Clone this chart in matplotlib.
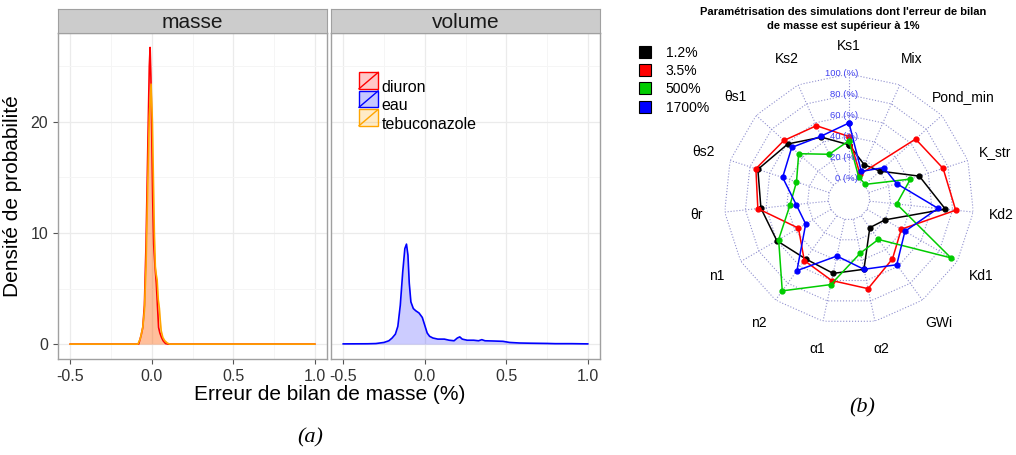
import numpy as np
import matplotlib
matplotlib.use("Agg")
import matplotlib.pyplot as plt
from matplotlib.patches import Patch, Rectangle
from matplotlib.lines import Line2D
from matplotlib.legend_handler import HandlerBase

plt.rcParams['font.family'] = ['Liberation Sans', 'DejaVu Sans']

# ---- (a) densities, points ----
diuron_x = [-0.5, -0.08, -0.065, -0.055, -0.045, -0.035, -0.025, -0.015, -0.01, -0.005, 0.0,
            0.006, 0.012, 0.02, 0.028, 0.035, 0.042, 0.05, 0.06, 0.07, 0.085, 0.1, 1.0]
diuron_y = [0, 0, 0.8, 1.5, 3.5, 9, 17, 25, 26.7, 24, 19,
            13, 9, 7, 5.5, 3.5, 1.5, 1.0, 0.6, 0.3, 0.05, 0, 0]

tebu_x = [-0.5, -0.085, -0.07, -0.055, -0.045, -0.035, -0.025, -0.015, -0.004, 0.004, 0.01,
          0.016, 0.022, 0.027, 0.033, 0.04, 0.047, 0.052, 0.058, 0.068, 0.08, 0.095, 0.11, 1.0]
tebu_y = [0, 0, 0.5, 1.5, 3.0, 7, 14, 20.5, 23.4, 20, 15,
          10, 7, 6.3, 5.8, 4, 3.2, 2.2, 1.2, 0.6, 0.3, 0.1, 0, 0]

eau_x = [-0.5, -0.35, -0.3, -0.25, -0.22, -0.2, -0.18, -0.165, -0.15, -0.135, -0.122, -0.112,
         -0.103, -0.095, -0.085, -0.07, -0.055, -0.035, -0.015, 0.0, 0.015, 0.03, 0.05, 0.08,
         0.12, 0.15, 0.18, 0.2, 0.215, 0.23, 0.26, 0.3, 0.33, 0.35, 0.37, 0.42, 0.48, 0.52,
         0.58, 0.65, 0.75, 0.8, 0.9, 1.0]
eau_y = [0.02, 0.03, 0.05, 0.15, 0.3, 0.55, 0.9, 1.6, 3.5, 6.5, 8.6, 9.0,
         8.0, 5.5, 3.8, 3.2, 3.0, 2.8, 2.4, 1.7, 1.0, 0.7, 0.55, 0.45,
         0.45, 0.35, 0.3, 0.55, 0.65, 0.45, 0.35, 0.35, 0.3, 0.4, 0.3, 0.28, 0.25, 0.15,
         0.1, 0.08, 0.06, 0.04, 0.04, 0.02]

facets = ["masse", "volume"]
x_ticks = [-0.5, 0.0, 0.5, 1.0]
x_tick_labels = ["-0.5", "0.0", "0.5", "1.0"]
y_ticks = [0, 10, 20]

# ---- (b) radar, % per parameter (clockwise from top) ----
params = ["Ks1", "Mix", "Pond_min", "K_str", "Kd2", "Kd1", "GWi", "α2", "α1",
          "n2", "n1", "θr", "θs2", "θs1", "Ks2"]
s_1_2 = [32, 16, 20, 51, 73, 20, 14, 49, 53, 51, 60, 65, 72, 59, 45]
s_3_5 = [40, 6, 66, 75, 83, 38, 51, 68, 60, 53, 36, 68, 74, 64, 57]
s_500 = [36, 3, 1, 42, 26, 93, 28, 33, 64, 89, 58, 37, 33, 45, 27]
s_1700 = [53, 9, 25, 28, 66, 42, 58, 49, 36, 65, 28, 31, 47, 54, 46]
series_labels = ["1.2%", "3.5%", "500%", "1700%"]
levels = [0, 20, 40, 60, 80, 100]

W, H = 1016, 455
fig = plt.figure(figsize=(W / 100, H / 100), dpi=100)


def fx(px):
    return px / W


def fy(px):
    return 1 - px / H


class DensityKey(HandlerBase):
    def create_artists(self, legend, orig, x0, y0, w, h, fontsize, trans):
        rect = Rectangle((x0, y0), w, h, facecolor=orig.get_facecolor(),
                         edgecolor=orig.get_edgecolor(), lw=1.0, transform=trans)
        diag = Line2D([x0, x0 + w], [y0, y0 + h], color=orig.get_edgecolor(),
                      lw=1.0, transform=trans)
        return [rect, diag]


panel_left = [58, 331]
panel_w = 269
axes = []
for i, name in enumerate(facets):
    ax = fig.add_axes([fx(panel_left[i]), fy(359), fx(panel_w), (359 - 33) / H])
    ax.set_xlim(-0.575, 1.075)
    ax.set_ylim(-1.34, 28.0)
    ax.set_xticks(x_ticks)
    ax.set_xticklabels(x_tick_labels)
    ax.set_xticks([-0.25, 0.25, 0.75], minor=True)
    ax.set_yticks(y_ticks)
    ax.set_yticks([5, 15, 25], minor=True)
    ax.grid(which='major', color='#ebebeb', lw=0.9)
    ax.grid(which='minor', color='#f5f5f5', lw=0.7)
    ax.set_axisbelow(True)
    for s in ax.spines.values():
        s.set_color('#a0a0a0')
        s.set_linewidth(1.0)
    ax.tick_params(which='major', length=3.5, width=0.8, color='#555555',
                   labelcolor='#333333', labelsize=11.5)
    ax.tick_params(which='minor', length=0)
    if i == 1:
        ax.tick_params(left=False, labelleft=False)
    # strip
    sax = fig.add_axes([fx(panel_left[i]), fy(33), fx(panel_w), 24 / H])
    sax.set_xticks([])
    sax.set_yticks([])
    sax.set_facecolor('#cccccc')
    for s in sax.spines.values():
        s.set_color('#a0a0a0')
    sax.text(0.5, 0.45, name, ha='center', va='center', fontsize=15, color='#1a1a1a')
    axes.append(ax)

ax1, ax2 = axes
ax1.fill_between(diuron_x, diuron_y, color='red', alpha=0.22, lw=0)
ax1.fill_between(tebu_x, tebu_y, color='orange', alpha=0.22, lw=0)
ax1.plot(diuron_x, diuron_y, color='red', lw=1.2)
ax1.plot(tebu_x, tebu_y, color='orange', lw=1.2)
ax2.fill_between(eau_x, eau_y, color='blue', alpha=0.2, lw=0)
ax2.plot(eau_x, eau_y, color='blue', lw=1.2)

ax1.set_ylabel("Densité de probabilité", fontsize=15, color='black', labelpad=6)
fig.text(fx(330), fy(395), "Erreur de bilan de masse (%)", ha='center', va='center',
         fontsize=15)

dens_handles = [Patch(facecolor=(1, 0, 0, 0.22), edgecolor='red'),
                Patch(facecolor=(0, 0, 1, 0.22), edgecolor='blue'),
                Patch(facecolor=(1, 0.65, 0, 0.22), edgecolor='orange')]
ax2.legend(dens_handles, ["diuron", "eau", "tebuconazole"], loc='upper left',
           bbox_to_anchor=(fx(359), fy(78)), bbox_transform=fig.transFigure,
           frameon=False, fontsize=11.5, handlelength=1.2, handleheight=1.2,
           labelspacing=0.12, handletextpad=0.2, borderpad=0, borderaxespad=0,
           handler_map={Patch: DensityKey()})

fig.text(fx(310), fy(438), "(a)", ha='center', va='center', fontsize=16,
         family='Liberation Serif', style='italic')

# ---- radar ----
R = 125
rax = fig.add_axes([fx(849 - R), fy(199 + R), 2 * R / W, 2 * R / H], projection='polar')
rax.set_theta_zero_location('N')
rax.set_theta_direction(-1)
rax.set_ylim(-20, 100)
rax.set_xticks([])
rax.set_yticks([])
rax.grid(False)
rax.spines['polar'].set_visible(False)
rax.patch.set_alpha(0)

angles = np.arange(len(params)) * 2 * np.pi / len(params)
closed = np.append(angles, angles[0])
grid_col = '#8f8fcf'
for lev in levels:
    rax.plot(closed, [lev] * len(closed), ls=':', color=grid_col, lw=0.8)
for a in angles:
    rax.plot([a, a], [0, 100], ls=':', color=grid_col, lw=0.8)
for lev in levels:
    rax.annotate(f"{lev} (%)", xy=(0, lev), xytext=(6.5, 0), textcoords='offset points',
                 ha='right', va='center', color='#4040f0', fontsize=6.8)

colors = ['black', 'red', '#00cc00', 'blue']
for vals, col in zip([s_1_2, s_3_5, s_500, s_1700], colors):
    v = np.append(vals, vals[0])
    rax.plot(closed, v, '-o', color=col, lw=1.1, ms=3.5)

for a, p in zip(angles, params):
    rax.text(a, 127, p, ha='center', va='center', fontsize=10)

fig.text(fx(843), fy(12), "Paramétrisation des simulations dont l'erreur de bilan",
         ha='center', va='center', fontsize=8, fontweight='bold')
fig.text(fx(843), fy(26), "de masse est supérieur à 1%",
         ha='center', va='center', fontsize=8, fontweight='bold')

leg_handles = [Line2D([], [], ls='none', marker='s', mfc=c, mec='black', mew=0.8, ms=8.5)
               for c in colors]
fig.legend(leg_handles, series_labels, loc='upper left', bbox_to_anchor=(fx(638), fy(46)),
           frameon=False, fontsize=10, handlelength=1.0, handletextpad=1.0,
           labelspacing=0.3, borderpad=0, borderaxespad=0)

fig.text(fx(862), fy(408), "(b)", ha='center', va='center', fontsize=16,
         family='Liberation Serif', style='italic')

fig.savefig("out.png", dpi=100)
